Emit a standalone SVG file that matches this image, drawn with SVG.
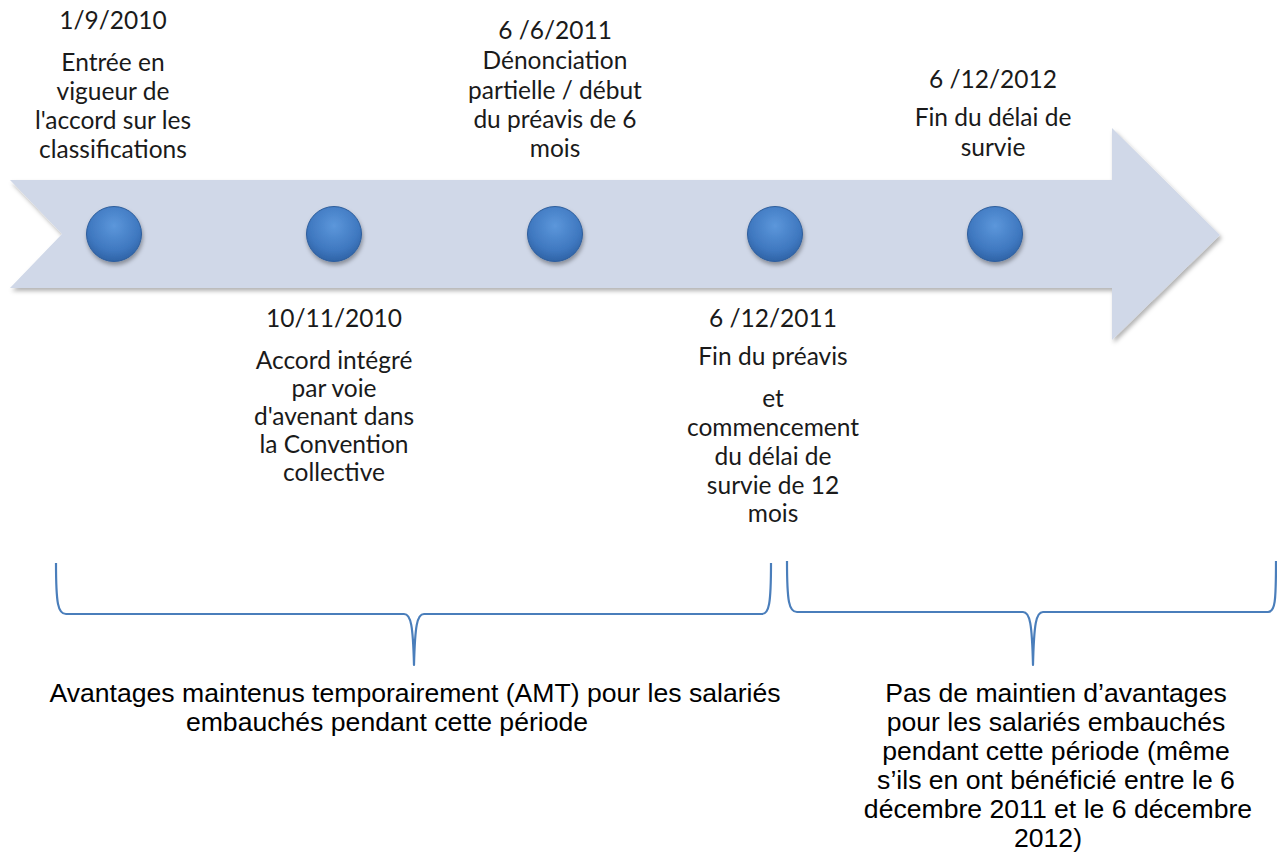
<svg xmlns="http://www.w3.org/2000/svg" width="1277" height="861" viewBox="0 0 1277 861">
<style>
.lbl{font-family:Lato,"Open Sans","Liberation Sans",sans-serif;font-size:24.5px;fill:#1a1a1a;text-anchor:middle}
.bot{font-family:"Liberation Sans",Arial,sans-serif;font-size:26.6px;fill:#000;text-anchor:middle}
.brace{fill:none;stroke:#4A7EBB;stroke-width:2.2;stroke-linejoin:round}
</style>
<defs>
<filter id="sh" x="-5%" y="-20%" width="110%" height="140%">
<feDropShadow dx="2" dy="3" stdDeviation="2" flood-color="#000" flood-opacity="0.3"/>
</filter>
<filter id="csh" x="-30%" y="-30%" width="160%" height="170%">
<feDropShadow dx="1" dy="3" stdDeviation="2" flood-color="#000" flood-opacity="0.35"/>
</filter>
<radialGradient id="cg" cx="0.5" cy="0.35" r="0.65">
<stop offset="0" stop-color="#5C97DB"/>
<stop offset="0.7" stop-color="#3F78C0"/>
<stop offset="1" stop-color="#2F63A6"/>
</radialGradient>
</defs>
<rect width="1277" height="861" fill="#fff"/>
<g id="arrow">
<polygon points="10,180 1112,180 1112,128 1220,235 1112,340 1112,288 10,288 62,234" fill="#D0D8E8" filter="url(#sh)"/>
</g>
<g id="dot1"><circle cx="114" cy="234" r="27.5" fill="url(#cg)" stroke="#2E5E9C" stroke-width="1" filter="url(#csh)"/></g>
<g id="dot2"><circle cx="334" cy="234" r="27.5" fill="url(#cg)" stroke="#2E5E9C" stroke-width="1" filter="url(#csh)"/></g>
<g id="dot3"><circle cx="555" cy="234" r="27.5" fill="url(#cg)" stroke="#2E5E9C" stroke-width="1" filter="url(#csh)"/></g>
<g id="dot4"><circle cx="775" cy="234" r="27.5" fill="url(#cg)" stroke="#2E5E9C" stroke-width="1" filter="url(#csh)"/></g>
<g id="dot5"><circle cx="995" cy="234" r="27.5" fill="url(#cg)" stroke="#2E5E9C" stroke-width="1" filter="url(#csh)"/></g>
<g id="label1">
<text class="lbl" x="113" y="29">1/9/2010</text>
<text class="lbl" x="113" y="71">Entrée en</text>
<text class="lbl" x="113" y="100">vigueur de</text>
<text class="lbl" x="113" y="129">l'accord sur les</text>
<text class="lbl" x="113" y="158">classifications</text>
</g>
<g id="label2">
<text class="lbl" x="334" y="327">10/11/2010</text>
<text class="lbl" x="334" y="369">Accord intégré</text>
<text class="lbl" x="334" y="397">par voie</text>
<text class="lbl" x="334" y="425">d'avenant dans</text>
<text class="lbl" x="334" y="453">la Convention</text>
<text class="lbl" x="334" y="481">collective</text>
</g>
<g id="label3">
<text class="lbl" x="555" y="39">6 /6/2011</text>
<text class="lbl" x="555" y="69">Dénonciation</text>
<text class="lbl" x="555" y="99">partielle / début</text>
<text class="lbl" x="555" y="128">du préavis de 6</text>
<text class="lbl" x="555" y="157">mois</text>
</g>
<g id="label4">
<text class="lbl" x="773" y="327">6 /12/2011</text>
<text class="lbl" x="773" y="365">Fin du préavis</text>
<text class="lbl" x="773" y="407">et</text>
<text class="lbl" x="773" y="436">commencement</text>
<text class="lbl" x="773" y="465">du délai de</text>
<text class="lbl" x="773" y="494">survie de 12</text>
<text class="lbl" x="773" y="522">mois</text>
</g>
<g id="label5">
<text class="lbl" x="993" y="88">6 /12/2012</text>
<text class="lbl" x="993" y="126">Fin du délai de</text>
<text class="lbl" x="993" y="156">survie</text>
</g>
<g id="connectors">
<path class="brace" d="M56,563 C56,604 58,614 66,614 L404,614 C411,614 413,626 414,665 C415,626 417,614 424,614 L762,614 C769,614 771,604 771,563"/>
<path class="brace" d="M787,561 C787,602 789,612 797,612 L1023,612 C1030,612 1032,624 1033,665 C1034,624 1036,612 1043,612 L1268,612 C1275,612 1276,602 1276,561"/>
</g>
<g id="note1">
<text class="bot" x="415" y="702">Avantages maintenus temporairement (AMT) pour les salariés</text>
<text class="bot" x="387" y="731">embauchés pendant cette période</text>
</g>
<g id="note2">
<text class="bot" x="1056" y="702">Pas de maintien d’avantages</text>
<text class="bot" x="1056" y="731">pour les salariés embauchés</text>
<text class="bot" x="1056" y="760">pendant cette période (même</text>
<text class="bot" x="1056" y="789">s’ils en ont bénéficié entre le 6</text>
<text class="bot" x="1058" y="818">décembre 2011 et le 6 décembre</text>
<text class="bot" x="1048" y="847">2012)</text>
</g>
</svg>
